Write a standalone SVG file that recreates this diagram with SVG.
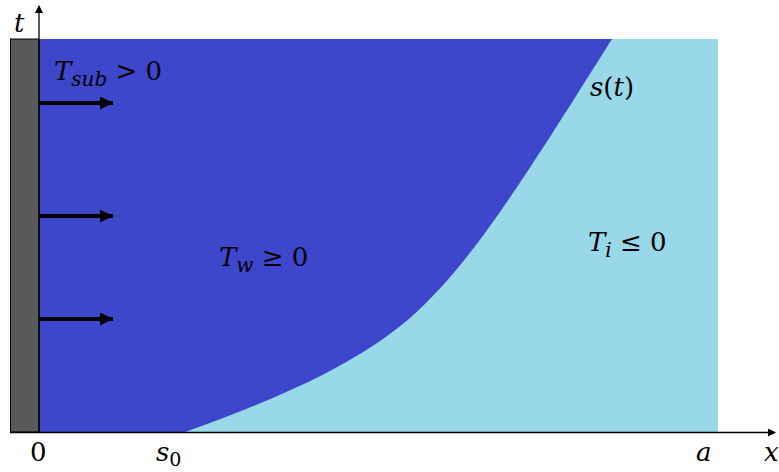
<svg xmlns="http://www.w3.org/2000/svg" width="779" height="472" viewBox="0 0 779 472">
<style>
.m{font-family:"DejaVu Serif","Liberation Serif",serif;fill:#000;}
.i{font-style:italic;}
.big{font-size:26px;}
.ax{stroke:#000;stroke-width:1.3;fill:none;}
.arr{stroke:#000;stroke-width:4;}
</style>
<defs>
<marker id="ah" markerWidth="8" markerHeight="8" refX="7" refY="4" orient="auto" markerUnits="userSpaceOnUse">
<path d="M0,0 L8,4 L0,8 z" fill="#000"/>
</marker>
<marker id="big" markerWidth="13" markerHeight="13" refX="13" refY="6.5" orient="auto" markerUnits="userSpaceOnUse">
<path d="M0,0 L13,6.5 L0,13 z" fill="#000"/>
</marker>
</defs>
<g id="water">
<rect x="39" y="39" width="679" height="393" fill="#3E47CB"/>
</g>
<g id="ice">
<path d="M185,432 C260,405 350,370 410,318 C470,265 520,185 612,39 L718,39 L718,432 Z" fill="#98D8E8"/>
</g>
<g id="wall">
<rect x="10.5" y="39" width="28.5" height="393" fill="#595959" stroke="#000" stroke-width="1"/>
</g>
<g id="connectors">
<line class="ax" x1="39" y1="432" x2="39" y2="6" marker-end="url(#ah)"/>
<line class="ax" x1="10" y1="432.5" x2="775" y2="432.5" marker-end="url(#ah)"/>
<line class="arr" x1="39" y1="103" x2="113" y2="103" marker-end="url(#big)"/>
<line class="arr" x1="39" y1="216" x2="113" y2="216" marker-end="url(#big)"/>
<line class="arr" x1="39" y1="319" x2="113" y2="319" marker-end="url(#big)"/>
</g>
<g id="labels">
<text class="m i big" x="14" y="32">t</text>
<text class="m big" x="54" y="80"><tspan class="i">T</tspan><tspan class="i" font-size="20" dy="6">sub</tspan><tspan dy="-6"> &gt; 0</tspan></text>
<text class="m i big" x="590" y="96">s<tspan font-style="normal">(</tspan>t<tspan font-style="normal">)</tspan></text>
<text class="m big" x="219" y="266"><tspan class="i">T</tspan><tspan class="i" font-size="20" dy="6">w</tspan><tspan dy="-6"> ≥ 0</tspan></text>
<text class="m big" x="588" y="251"><tspan class="i">T</tspan><tspan class="i" font-size="20" dy="6">i</tspan><tspan dy="-6"> ≤ 0</tspan></text>
<text class="m big" x="30" y="461">0</text>
<text class="m big" x="156" y="461"><tspan class="i">s</tspan><tspan font-size="19" dy="5">0</tspan></text>
<text class="m i big" x="696" y="461">a</text>
<text class="m i big" x="764" y="461">x</text>
</g>
</svg>
